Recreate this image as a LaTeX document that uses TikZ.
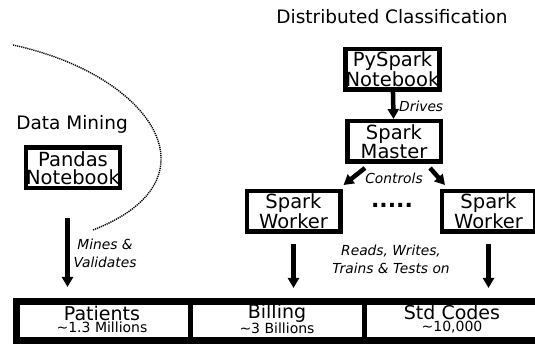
\documentclass[tikz,border=0pt]{standalone}
\usepackage{fontspec}
\setmainfont{DejaVu Sans}
\usetikzlibrary{arrows.meta}

\begin{document}
\begin{tikzpicture}[x=1pt,y=-1pt,
		box/.style={draw,line width=4.5pt,minimum width=93.5pt,minimum height=40.5pt,inner sep=0pt,align=center,font=\fontsize{19.5}{18.5}\selectfont},
		arr/.style={line width=4.5pt,-{Triangle[length=10pt,width=11pt]}},
		lbl/.style={font=\fontsize{13.8}{18}\selectfont\itshape,align=center,inner sep=0pt},
		head/.style={font=\fontsize{18.5}{18}\selectfont,inner sep=0pt},
		cell/.style={minimum width=170pt,minimum height=36pt,inner sep=0pt,align=center,font=\fontsize{19}{12}\selectfont}]
		\useasboundingbox (0,0) rectangle (535,344);
		\node[head] (dcl) at (392,17) {Distributed Classification};
		\node[head] (dmin) at (72,124) {Data Mining};
		\node[box] (pandas) at (73,168) {Pandas\\Notebook};
		\node[box] (pyspark) at (392.5,69.5) {PySpark\\Notebook};
		\node[box] (master) at (394,141.5) {Spark\\Master};
		\node[box] (workerL) at (293.5,211.5) {Spark\\Worker};
		\node[box] (workerR) at (488.5,211.5) {Spark\\Worker};
		\node[font=\fontsize{22}{22}\selectfont\bfseries] (dots) at (392,205) {.....};
		\node[cell] (patients) at (102,319) {Patients\\{\fontsize{14}{12}\selectfont\textasciitilde1.3 Millions}};
		\node[cell] (billing) at (277,319) {Billing\\{\fontsize{14}{12}\selectfont\textasciitilde3 Billions}};
		\node[cell] (codes) at (452,319) {Std Codes\\{\fontsize{14}{12}\selectfont\textasciitilde10,000}};
		\draw[line width=7pt] (16.5,301.5) rectangle (545,340.5);
		\draw[line width=5pt] (190.5,301.5) -- (190.5,340.5);
		\draw[line width=5pt] (364.5,301.5) -- (364.5,340.5);
		\coordinate (tabtop) at (0,298);
		\coordinate (minetop) at (67.5,218);
		\draw[arr] (pyspark) -- (master);
		\node[lbl,anchor=west] (drv) at (399,106) {Drives};
		\draw[arr] ([xshift=-29pt,yshift=-4pt]master.south) -- ([xshift=50pt,yshift=4pt]workerL.north);
		\draw[arr] ([xshift=36pt,yshift=-4pt]master.south) -- ([xshift=-43.5pt,yshift=4pt]workerR.north);
		\node[lbl] (ctl) at (394,178) {Controls};
		\draw[arr,shorten <=10pt,shorten >=10pt] (workerL.south) -- (workerL.south |- tabtop);
		\draw[arr,shorten <=10pt,shorten >=10pt] (workerR.south) -- (workerR.south |- tabtop);
		\node[lbl] (rwt) at (391,259) {Reads, Writes,\\Trains \& Tests on};
		\draw[arr,shorten >=11pt] (minetop) -- (minetop |- tabtop);
		\node[lbl] (mnv) at (105,253.5) {Mines \&\\Validates};
		\draw[line width=1.4pt,dash pattern=on 1.2pt off 0.9pt] (13,45) .. controls (152,75) and (222,180) .. (93,230);
	\end{tikzpicture}
\end{document}
